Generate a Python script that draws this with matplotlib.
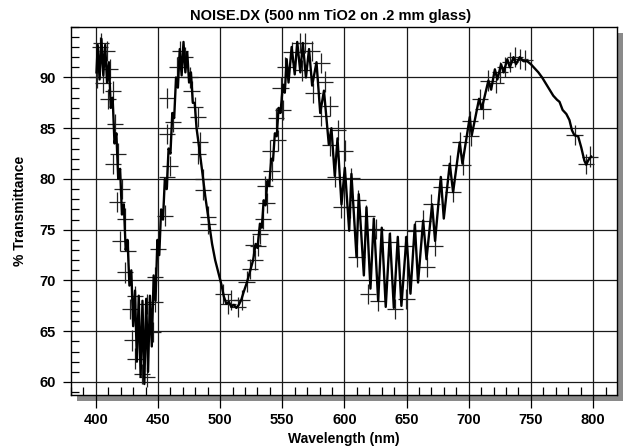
import matplotlib.pyplot as plt
from matplotlib.ticker import MultipleLocator
from matplotlib.patches import Rectangle

plt.rcParams['font.family'] = ['Liberation Sans', 'DejaVu Sans']
plt.rcParams['font.weight'] = 'bold'

# spectrum (nm, % transmittance)
wavelength = [
    400.5, 401.5, 403.0, 404.5, 406.0, 407.5, 409.0, 410.5, 412.0, 413.5,
    415.0, 416.5, 418.0, 419.5, 421.0, 422.5, 424.0, 425.5, 427.0, 428.5,
    430.0, 431.5, 433.0, 434.5, 436.0, 437.5, 439.0, 440.5, 442.0, 443.5,
    445.0, 446.5, 448.0, 449.5, 451.0, 452.5, 454.0, 455.5, 457.0, 458.5,
    460.0, 461.5, 463.0, 464.5, 466.0, 467.5, 469.0, 470.5, 472.0, 473.5,
    475.0, 476.5, 478.0, 479.5, 481.0, 483.0, 485.5, 488.0, 491.0, 493.5,
    496.0, 498.5, 501.0, 503.0, 505.0, 507.0, 509.0, 511.0, 513.0, 515.0,
    517.0, 519.0, 521.5, 524.0, 526.5, 528.5, 530.0, 532.0, 533.5, 535.0,
    536.5, 538.0, 539.5, 541.0, 542.5, 544.0, 545.5, 547.0, 548.5, 550.5,
    552.0, 553.5, 555.0, 557.5, 560.0, 562.0, 564.5, 566.5, 569.0, 571.5,
    574.0, 577.5, 580.5, 583.5, 587.4, 589.5, 592.2, 594.4, 597.6, 600.3,
    603.8, 605.6, 609.7, 611.5, 615.6, 617.7, 620.9, 623.6, 627.1, 630.0,
    633.2, 636.5, 639.7, 642.9, 645.8, 649.9, 653.1, 656.6, 659.2, 663.3,
    666.0, 670.5, 672.9, 677.5, 679.9, 684.7, 687.4, 692.7, 694.9, 700.8,
    702.4, 708.3, 710.4, 715.8, 718.0, 721.0, 723.0, 726.0, 728.0, 731.0,
    733.0, 736.0, 738.0, 741.0, 744.0, 747.0, 750.0, 753.0, 756.0, 759.0,
    762.0, 765.0, 768.0, 771.0, 773.0, 775.5, 778.5, 781.0, 783.0, 785.0,
    788.0, 790.5, 793.0, 794.5, 796.0, 797.0, 798.5,
]
transmittance = [
    90.5, 93.2, 89.8, 93.8, 90.2, 93.2, 89.5, 91.5, 87.0, 88.0,
    83.5, 84.5, 80.0, 81.0, 76.5, 77.5, 73.0, 74.0, 69.5, 71.0,
    65.5, 69.0, 62.0, 68.5, 60.5, 68.0, 59.8, 68.2, 61.0, 68.5,
    63.5, 70.5, 68.0, 74.0, 72.5, 77.0, 76.0, 80.0, 79.0, 83.0,
    82.5, 86.5, 86.0, 90.0, 89.0, 92.8, 90.2, 93.5, 90.5, 92.5,
    89.5, 90.5, 87.5, 87.5, 85.0, 83.2, 80.8, 78.3, 75.7, 73.6,
    72.0, 70.8, 69.6, 68.4, 67.7, 67.9, 67.4, 67.6, 67.3, 67.6,
    68.1, 68.9, 69.8, 70.9, 72.0, 73.6, 73.2, 75.6, 75.2, 77.9,
    77.4, 79.8, 79.3, 82.0, 81.8, 84.5, 84.2, 87.0, 86.5, 89.3,
    88.5, 91.8, 89.5, 93.0, 90.3, 93.5, 90.5, 93.4, 90.0, 92.8,
    89.2, 91.5, 86.5, 88.7, 83.4, 85.0, 80.3, 84.0, 77.5, 81.1,
    74.9, 80.5, 72.3, 78.5, 70.5, 77.2, 69.2, 76.1, 68.0, 75.2,
    67.4, 74.6, 67.3, 74.3, 67.5, 74.3, 68.7, 75.5, 69.8, 75.9,
    72.1, 77.5, 73.9, 80.2, 76.1, 81.5, 78.7, 83.6, 81.5, 86.1,
    84.3, 87.9, 86.9, 89.7, 88.8, 90.8, 89.8, 91.3, 90.5, 91.8,
    91.0, 92.0, 91.3, 92.0, 91.6, 91.6, 91.3, 90.9, 90.5, 90.0,
    89.4, 88.8, 88.2, 87.8, 87.6, 86.8, 86.4, 85.8, 84.8, 84.3,
    84.2, 83.1, 81.8, 81.4, 81.8, 82.0, 82.2,
]

# error crosses
err_wl = [
    400.7, 403.4, 404.2, 406.0, 408.7, 410.1, 411.4, 414.1, 414.1, 415.4,
    416.8, 418.1, 419.4, 420.8, 423.5, 423.5, 426.1, 427.5, 428.8, 431.5,
    431.5, 436.9, 440.9, 440.9, 446.2, 447.6, 447.6, 450.3, 455.6, 457.0,
    459.6, 457.0, 462.3, 457.0, 465.0, 467.7, 471.7, 475.7, 477.0, 479.7,
    482.4, 483.8, 482.4, 486.5, 486.5, 490.5, 490.5, 502.5, 506.5, 509.1,
    514.5, 517.2, 521.2, 523.9, 526.6, 527.9, 530.6, 531.9, 534.6, 536.0,
    537.3, 540.0, 541.3, 544.8, 546.7, 548.6, 550.7, 552.0, 557.4, 564.1,
    566.2, 568.1, 573.5, 574.8, 581.5, 581.5, 584.2, 588.2, 588.2, 592.2,
    595.0, 597.6, 600.3, 604.3, 605.6, 609.7, 611.0, 617.7, 619.0, 625.7,
    627.1, 636.5, 640.5, 648.5, 649.9, 656.6, 663.3, 666.0, 670.0, 672.6,
    678.0, 684.7, 687.4, 692.7, 695.4, 700.8, 702.1, 708.8, 711.5, 715.5,
    722.0, 725.0, 729.0, 733.0, 737.0, 741.0, 745.0, 785.1, 794.5, 797.2,
]
err_t = [
    90.0, 93.0, 93.4, 89.5, 92.6, 87.9, 90.8, 88.7, 81.5, 85.4,
    77.7, 82.5, 73.9, 79.0, 76.1, 70.8, 72.9, 67.2, 64.1, 68.5,
    62.3, 60.8, 60.5, 67.7, 64.9, 67.9, 70.3, 73.1, 76.4, 80.2,
    81.3, 84.4, 85.6, 88.0, 91.0, 92.6, 92.0, 90.0, 88.7, 87.1,
    86.1, 83.6, 82.5, 80.0, 78.9, 76.3, 75.6, 68.7, 67.7, 68.1,
    67.4, 68.1, 69.9, 71.1, 73.5, 72.0, 73.4, 74.6, 76.1, 79.3,
    77.6, 82.8, 80.8, 86.0, 83.8, 89.0, 86.8, 91.0, 92.5, 93.4,
    90.7, 93.4, 92.6, 88.5, 91.4, 86.2, 89.6, 87.2, 83.3, 80.2,
    84.8, 77.2, 82.8, 77.2, 80.1, 72.3, 77.9, 76.4, 68.7, 75.1,
    68.0, 73.8, 67.2, 73.4, 68.2, 74.9, 75.9, 71.3, 77.5, 73.4,
    79.2, 81.4, 78.7, 83.6, 81.4, 85.7, 84.2, 87.9, 86.9, 89.7,
    89.5, 90.5, 91.0, 91.5, 92.0, 91.8, 91.7, 84.3, 81.5, 82.2,
]

fig = plt.figure(figsize=(6.25, 4.48), dpi=100)
ax = fig.add_axes([0.1136, 0.1190, 0.8741, 0.8214])

# drop shadow behind the frame
fig.patches.append(Rectangle((0.1232, 0.1049), 0.8736, 0.8214, transform=fig.transFigure,
                             facecolor='#8a8a8a', edgecolor='none', zorder=-1))

ax.errorbar(err_wl, err_t, xerr=6.5, yerr=1.0, fmt='none', ecolor='#222222',
            elinewidth=0.9, capsize=0, zorder=2)
ax.plot(wavelength, transmittance, color='black', lw=1.7, zorder=3)

ax.set_xlim(380, 819.5)
ax.set_ylim(58.75, 95)
ax.xaxis.set_major_locator(MultipleLocator(50))
ax.xaxis.set_minor_locator(MultipleLocator(10))
ax.yaxis.set_major_locator(MultipleLocator(5))
ax.yaxis.set_minor_locator(MultipleLocator(1))
ax.set_yticks([60, 65, 70, 75, 80, 85, 90])
ax.grid(True, which='major', color='#1a1a1a', lw=0.9, zorder=1)
ax.set_axisbelow(True)

ax.tick_params(axis='x', which='major', direction='out', length=9.5, width=0.9,
               labelsize=10.5, pad=4)
ax.tick_params(axis='y', which='major', direction='out', length=6, width=0.9,
               labelsize=10.5, pad=5)
ax.tick_params(which='minor', direction='in', length=6, width=0.9)
for s in ax.spines.values():
    s.set_linewidth(1.0)

ax.set_xlabel('Wavelength (nm)', fontsize=10, fontweight='bold', labelpad=3)
ax.set_ylabel('% Transmittance', fontsize=10, fontweight='bold', labelpad=9)
ax.set_title('NOISE.DX (500 nm TiO2 on .2 mm glass)', fontsize=10.5,
             fontweight='bold', pad=5, x=0.476)

fig.savefig('out.png', dpi=100)
